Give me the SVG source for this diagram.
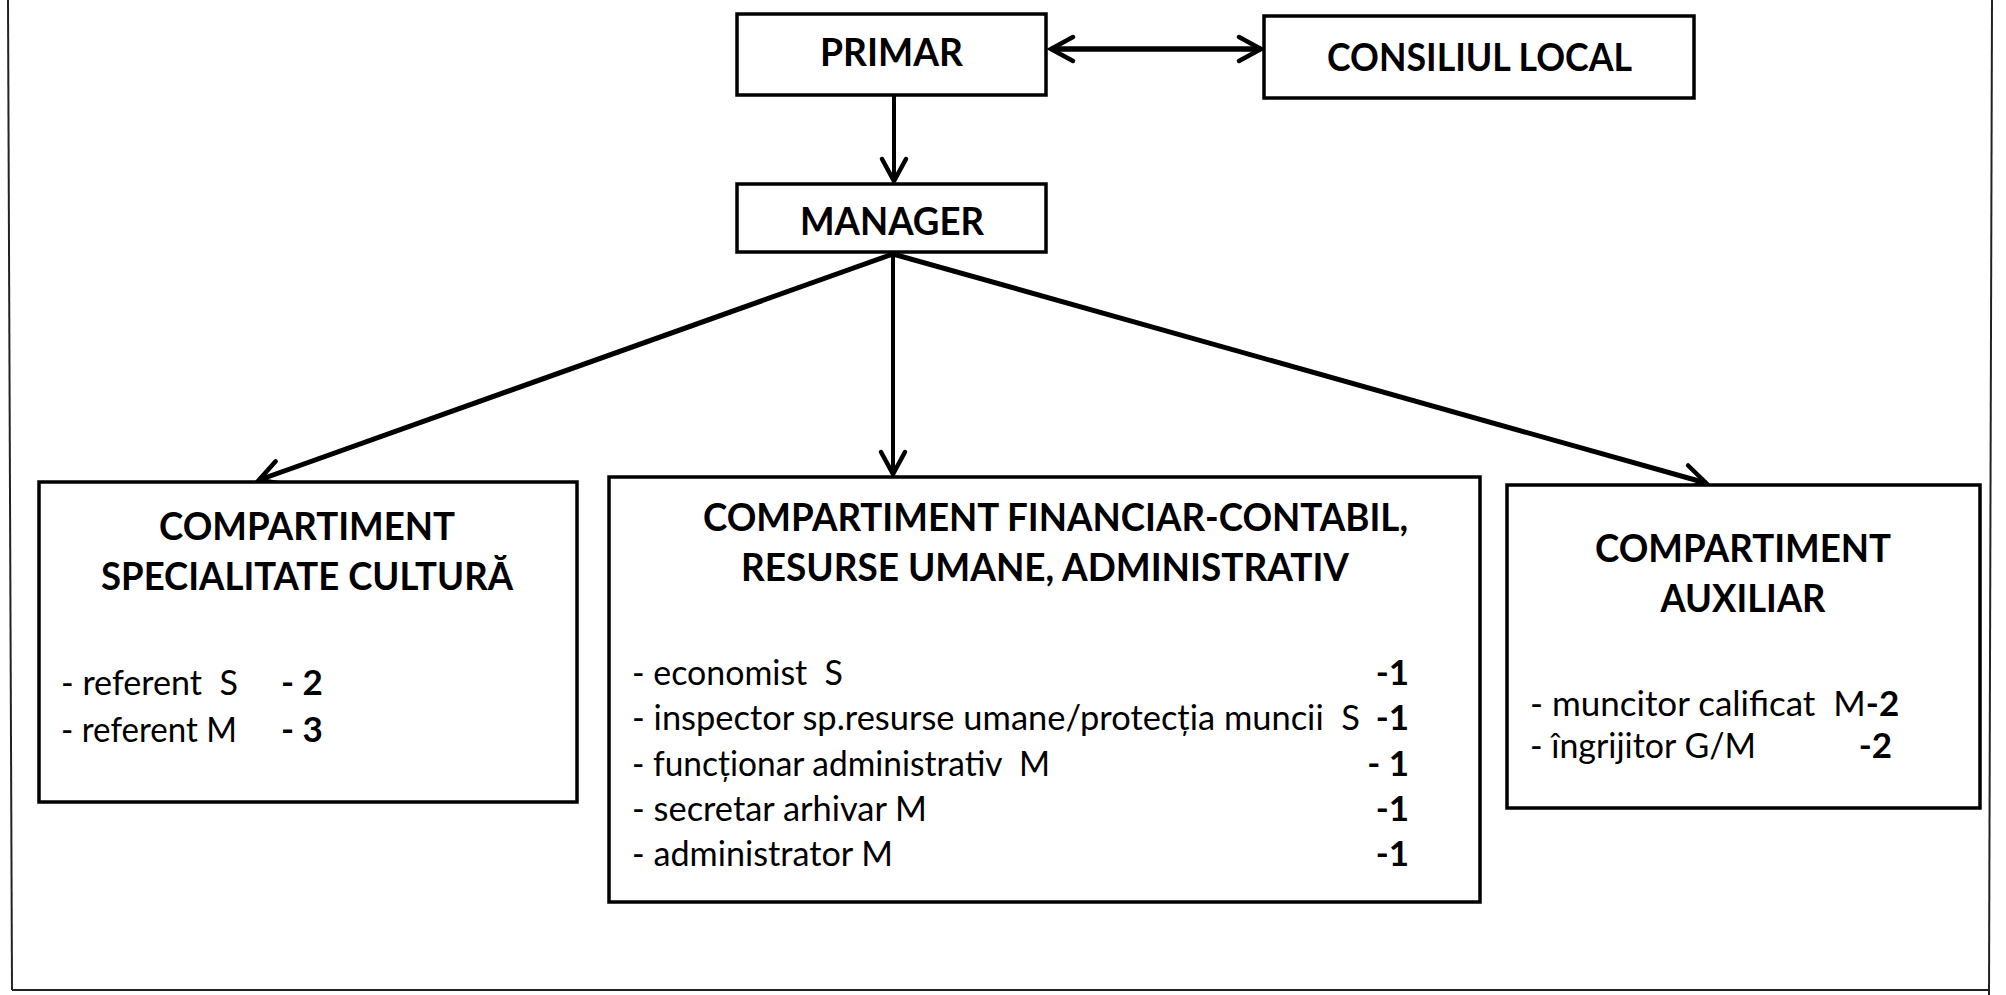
<svg xmlns="http://www.w3.org/2000/svg" width="2006" height="995" viewBox="0 0 2006 995">
<style>
.box{fill:#fff;stroke:#000;stroke-width:3.5}
.frame{stroke:#222;stroke-width:2;fill:none}
.title{font-family:Lato,"Noto Sans",sans-serif;font-weight:700;font-size:39px;fill:#000}
.body{font-family:Lato,"Noto Sans",sans-serif;font-weight:400;font-size:35px;fill:#000}
.num{font-family:Lato,"Noto Sans",sans-serif;font-weight:700;font-size:35px;fill:#000}
.conn{stroke:#000;fill:none}
</style>
<defs>
<marker id="arr" markerUnits="userSpaceOnUse" markerWidth="30" markerHeight="30" refX="0" refY="0" orient="auto-start-reverse" overflow="visible">
<path d="M-22,-12 L0,0 L-22,12" fill="none" stroke="#000" stroke-width="4.5" stroke-linecap="round" stroke-linejoin="miter"/>
</marker>
</defs>
<rect x="0" y="0" width="2006" height="995" fill="#fff"/>
<g id="frame">
<line class="frame" x1="8" y1="0" x2="12" y2="990"/>
<line class="frame" x1="12" y1="990" x2="1990" y2="990"/>
<line class="frame" x1="1992" y1="0" x2="1989" y2="995"/>
</g>
<g id="connectors">
<line class="conn" x1="1051" y1="49" x2="1261" y2="49" stroke-width="5.5" marker-start="url(#arr)" marker-end="url(#arr)"/>
<line class="conn" x1="894" y1="95" x2="894" y2="181" stroke-width="4" marker-end="url(#arr)"/>
<line class="conn" x1="893" y1="254" x2="259" y2="480" stroke-width="5" marker-end="url(#arr)"/>
<line class="conn" x1="893" y1="254" x2="893" y2="474" stroke-width="4" marker-end="url(#arr)"/>
<line class="conn" x1="893" y1="254" x2="1706" y2="483" stroke-width="5" marker-end="url(#arr)"/>
</g>
<g id="primar">
<rect class="box" x="737" y="14" width="309" height="81"/>
<text class="title" x="891.5" y="66" text-anchor="middle" textLength="143" lengthAdjust="spacingAndGlyphs">PRIMAR</text>
</g>
<g id="consiliul">
<rect class="box" x="1264" y="16" width="430" height="82"/>
<text class="title" x="1479.5" y="71" text-anchor="middle" textLength="305" lengthAdjust="spacingAndGlyphs">CONSILIUL LOCAL</text>
</g>
<g id="manager">
<rect class="box" x="737" y="184" width="309" height="68"/>
<text class="title" x="892" y="235" text-anchor="middle" textLength="184" lengthAdjust="spacingAndGlyphs">MANAGER</text>
</g>
<g id="comp-cultura">
<rect class="box" x="39" y="482" width="538" height="320"/>
<text class="title" x="307" y="540" text-anchor="middle" textLength="296" lengthAdjust="spacingAndGlyphs">COMPARTIMENT</text>
<text class="title" x="307" y="590" text-anchor="middle" textLength="412" lengthAdjust="spacingAndGlyphs">SPECIALITATE CULTURĂ</text>
<text class="body" x="61" y="695" xml:space="preserve" textLength="177" lengthAdjust="spacingAndGlyphs">- referent  S</text>
<text class="num" x="281" y="695" xml:space="preserve">- 2</text>
<text class="body" x="61" y="742" xml:space="preserve" textLength="176" lengthAdjust="spacingAndGlyphs">- referent M</text>
<text class="num" x="281" y="742" xml:space="preserve">- 3</text>
</g>
<g id="comp-financiar">
<rect class="box" x="609" y="477" width="871" height="425"/>
<text class="title" x="703" y="531" textLength="705" lengthAdjust="spacingAndGlyphs">COMPARTIMENT FINANCIAR-CONTABIL,</text>
<text class="title" x="741" y="581" textLength="608" lengthAdjust="spacingAndGlyphs">RESURSE UMANE, ADMINISTRATIV</text>
<text class="body" x="632" y="685" xml:space="preserve" textLength="211" lengthAdjust="spacingAndGlyphs">- economist  S</text>
<text class="num" x="1409" y="685" text-anchor="end">-1</text>
<text class="body" x="632" y="730" xml:space="preserve" textLength="728" lengthAdjust="spacingAndGlyphs">- inspector sp.resurse umane/protecția muncii  S</text>
<text class="num" x="1409" y="730" text-anchor="end">-1</text>
<text class="body" x="632" y="776" xml:space="preserve" textLength="418" lengthAdjust="spacingAndGlyphs">- funcționar administrativ  M</text>
<text class="num" x="1409" y="776" text-anchor="end" xml:space="preserve">- 1</text>
<text class="body" x="632" y="821" xml:space="preserve" textLength="295" lengthAdjust="spacingAndGlyphs">- secretar arhivar M</text>
<text class="num" x="1409" y="821" text-anchor="end">-1</text>
<text class="body" x="632" y="866" xml:space="preserve" textLength="261" lengthAdjust="spacingAndGlyphs">- administrator M</text>
<text class="num" x="1409" y="866" text-anchor="end">-1</text>
</g>
<g id="comp-auxiliar">
<rect class="box" x="1507" y="485" width="473" height="323"/>
<text class="title" x="1743" y="562" text-anchor="middle" textLength="296" lengthAdjust="spacingAndGlyphs">COMPARTIMENT</text>
<text class="title" x="1743" y="612" text-anchor="middle" textLength="165" lengthAdjust="spacingAndGlyphs">AUXILIAR</text>
<text class="body" x="1530" y="716" xml:space="preserve">- muncitor calificat  M<tspan font-weight="700">-2</tspan></text>
<text class="body" x="1530" y="758" xml:space="preserve" textLength="226" lengthAdjust="spacingAndGlyphs">- îngrijitor G/M</text>
<text class="num" x="1892" y="758" text-anchor="end">-2</text>
</g>
</svg>
